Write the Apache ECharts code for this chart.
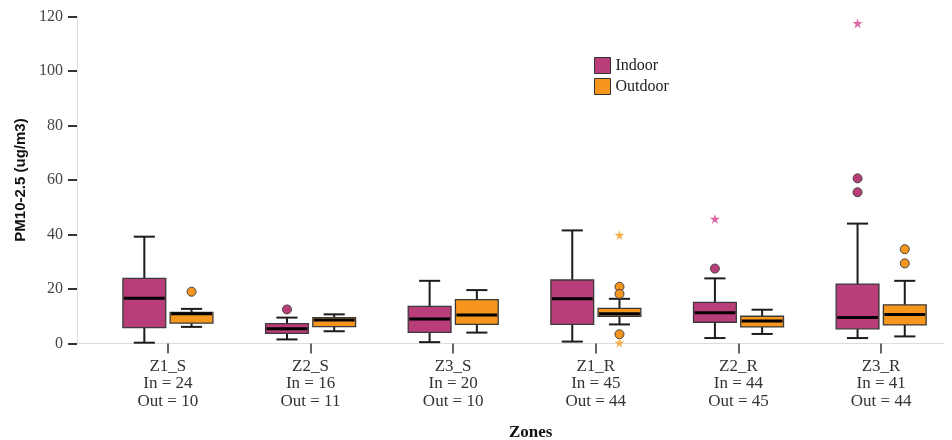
<!DOCTYPE html>
<html>
<head>
<meta charset="utf-8">
<script src="https://cdn.jsdelivr.net/npm/echarts@6/dist/echarts.min.js"></script>
<style>
html,body{margin:0;padding:0;background:#fff;}
#chart{width:952px;height:440px;}
</style>
</head>
<body>
<div id="chart"></div>
<script>
// ---- data ----
const categories = ['Z1_S', 'Z2_S', 'Z3_S', 'Z1_R', 'Z2_R', 'Z3_R'];
const nIndoor = [24, 16, 20, 45, 44, 41];
const nOutdoor = [10, 11, 10, 44, 45, 44];
const yTicks = [0, 20, 40, 60, 80, 100, 120];
// [lower whisker, Q1, median, Q3, upper whisker]
const indoorBox = [
  [0.3, 5.8, 16.6, 23.9, 39.2],
  [1.5, 3.7, 5.4, 7.3, 9.5],
  [0.5, 4.1, 9.0, 13.6, 23.0],
  [0.7, 7.0, 16.4, 23.3, 41.5],
  [2.0, 7.8, 11.3, 15.1, 23.9],
  [2.0, 5.4, 9.5, 21.8, 44.0]
];
const outdoorBox = [
  [6.1, 7.5, 10.9, 11.4, 12.7],
  [4.5, 6.2, 8.6, 9.5, 10.7],
  [4.0, 7.0, 10.5, 16.1, 19.6],
  [7.0, 10.0, 10.9, 12.9, 16.4],
  [3.5, 6.1, 8.3, 10.0, 12.4],
  [2.6, 6.8, 10.6, 14.2, 23.0]
];
// [category index, value]
const indoorOutliers = [[1, 12.5], [4, 27.5], [5, 60.6], [5, 55.5]];
const indoorExtremes = [[4, 45.7], [5, 117.5]];
const outdoorOutliers = [[0, 19.0], [3, 20.8], [3, 18.2], [3, 3.4], [5, 34.6], [5, 29.4]];
const outdoorExtremes = [[3, 39.8], [3, 0.3]];

// ---- styling / layout ----
const IN_COLOR = '#B93D78';
const OUT_COLOR = '#F7961D';
const IN_STAR = '#D9579B';
const OUT_STAR = '#F6A83F';
const SERIF = '"Liberation Serif", "DejaVu Serif", serif';
const SANS = '"Liberation Sans", Arial, sans-serif';
const GRID_LEFT = 77, GRID_RIGHT_X = 944;
const X_MIN = -0.637, X_MAX = 5.441;
const UNIT = (GRID_RIGHT_X - GRID_LEFT) / (X_MAX - X_MIN);
const SHIFT_IN = -0.165, SHIFT_OUT = 0.166;
const BOX_W = 0.300, CAP_W = 0.148;
const STAR = 'path://M50,2 L61,37 L98,37 L68,59 L79,94 L50,72 L21,94 L32,59 L2,37 L39,37 Z';

function makeBoxRender(shift) {
  return function (params, api) {
    const xv = api.value(0);
    const unit = api.size([1, 0])[0];
    const cx = api.coord([xv, 0])[0] + shift * unit;
    const hw = unit * BOX_W / 2;
    const cw = unit * CAP_W / 2;
    const yl = api.coord([xv, api.value(1)])[1];
    const yq1 = api.coord([xv, api.value(2)])[1];
    const ym = api.coord([xv, api.value(3)])[1];
    const yq3 = api.coord([xv, api.value(4)])[1];
    const yh = api.coord([xv, api.value(5)])[1];
    const color = api.visual('color');
    const ws = { stroke: '#1c1c1c', lineWidth: 2 };
    return {
      type: 'group',
      children: [
        { type: 'line', shape: { x1: cx, y1: yh, x2: cx, y2: yq3 }, style: ws },
        { type: 'line', shape: { x1: cx, y1: yq1, x2: cx, y2: yl }, style: ws },
        { type: 'line', shape: { x1: cx - cw, y1: yh, x2: cx + cw, y2: yh }, style: ws },
        { type: 'line', shape: { x1: cx - cw, y1: yl, x2: cx + cw, y2: yl }, style: ws },
        { type: 'rect', shape: { x: cx - hw, y: yq3, width: 2 * hw, height: yq1 - yq3 },
          style: { fill: color, stroke: '#3a3a3a', lineWidth: 1.3 } },
        { type: 'line', shape: { x1: cx - hw + 1, y1: ym, x2: cx + hw - 1, y2: ym },
          style: { stroke: '#000', lineWidth: 3 } }
      ]
    };
  };
}

const chart = echarts.init(document.getElementById('chart'), null, { renderer: 'canvas' });
const ticks = categories.map((c, i) => i);

const option = {
  animation: false,
  backgroundColor: '#fff',
  grid: { left: GRID_LEFT, right: 952 - GRID_RIGHT_X, top: 16.5, bottom: 96.5 },
  title: {
    text: 'Zones', left: 504, top: 419,
    textStyle: { fontFamily: SERIF, fontWeight: 'bold', fontSize: 17, color: '#111' }
  },
  legend: {
    orient: 'vertical', left: 594, top: 57, padding: 0,
    itemWidth: 16, itemHeight: 16, itemGap: 4,
    data: [{ name: 'Indoor', icon: 'rect' }, { name: 'Outdoor', icon: 'rect' }],
    itemStyle: { borderColor: '#333', borderWidth: 1 },
    textStyle: { fontFamily: SERIF, fontSize: 16, lineHeight: 16, color: '#222' }
  },
  xAxis: {
    type: 'value', min: X_MIN, max: X_MAX,
    axisLine: { show: true, onZero: false, lineStyle: { color: '#dcdcdc', width: 1 } },
    axisTick: { show: true, customValues: ticks, length: 10, lineStyle: { color: '#333', width: 1.5 } },
    axisLabel: {
      show: true, customValues: ticks, margin: 14,
      formatter: function (v) {
        const i = Math.round(v);
        return categories[i] + '\nIn = ' + nIndoor[i] + '\nOut = ' + nOutdoor[i];
      },
      fontFamily: SERIF, fontSize: 17, lineHeight: 17.5, color: '#333'
    },
    splitLine: { show: false }
  },
  yAxis: {
    type: 'value', min: yTicks[0], max: yTicks[yTicks.length - 1], interval: 20,
    name: 'PM10-2.5 (ug/m3)', nameLocation: 'middle', nameGap: 48,
    nameTextStyle: { fontFamily: SANS, fontWeight: 'bold', fontSize: 15, color: '#111' },
    axisLine: { show: true, onZero: false, lineStyle: { color: '#dcdcdc', width: 1 } },
    axisTick: { show: true, length: 9, lineStyle: { color: '#333', width: 2 } },
    axisLabel: { margin: 14, fontFamily: SERIF, fontSize: 16, color: '#444' },
    splitLine: { show: false }
  },
  series: [
    {
      name: 'Indoor', type: 'custom',
      itemStyle: { color: IN_COLOR },
      encode: { x: 0, y: [1, 2, 3, 4, 5] },
      renderItem: makeBoxRender(SHIFT_IN),
      data: indoorBox.map((b, i) => [i].concat(b)),
      z: 2
    },
    {
      name: 'Outdoor', type: 'custom',
      itemStyle: { color: OUT_COLOR },
      encode: { x: 0, y: [1, 2, 3, 4, 5] },
      renderItem: makeBoxRender(SHIFT_OUT),
      data: outdoorBox.map((b, i) => [i].concat(b)),
      z: 2
    },
    {
      name: 'Indoor', type: 'scatter', symbol: 'circle', symbolSize: 9,
      symbolOffset: [SHIFT_IN * UNIT, 0],
      itemStyle: { color: IN_COLOR, borderColor: '#444', borderWidth: 1, opacity: 1 },
      data: indoorOutliers, z: 3
    },
    {
      name: 'Indoor', type: 'scatter', symbol: STAR, symbolSize: 10,
      symbolOffset: [SHIFT_IN * UNIT, 0],
      itemStyle: { color: IN_STAR, opacity: 0.9 },
      data: indoorExtremes, z: 3
    },
    {
      name: 'Outdoor', type: 'scatter', symbol: 'circle', symbolSize: 9,
      symbolOffset: [SHIFT_OUT * UNIT, 0],
      itemStyle: { color: OUT_COLOR, borderColor: '#444', borderWidth: 1, opacity: 1 },
      data: outdoorOutliers, z: 3
    },
    {
      name: 'Outdoor', type: 'scatter', symbol: STAR, symbolSize: 10,
      symbolOffset: [SHIFT_OUT * UNIT, 0],
      itemStyle: { color: OUT_STAR, opacity: 0.9 },
      data: outdoorExtremes, z: 3
    }
  ]
};
chart.setOption(option);
</script>
</body>
</html>
